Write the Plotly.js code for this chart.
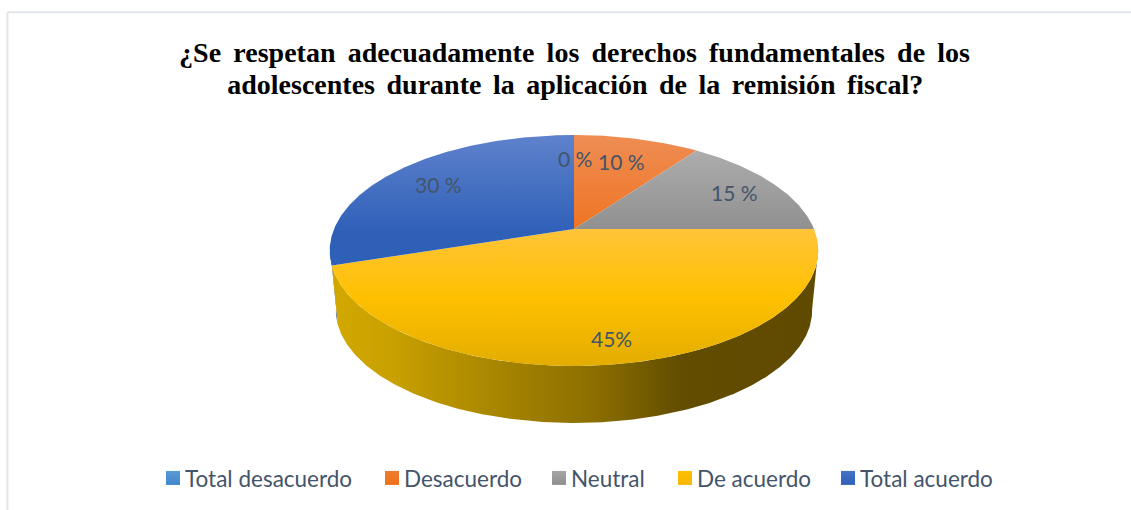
<!DOCTYPE html>
<html><head><meta charset="utf-8">
<script src="https://cdn.plot.ly/plotly-3.0.1.min.js"></script>
<style>html,body{margin:0;padding:0;background:#fff}#chart{width:1131px;height:510px}
#chart text.gtitle{word-spacing:5.25px}
#chart .annotation[data-index="5"] text{word-spacing:4.5px}</style>
</head><body><div id="chart"></div>
<script>
const categories = ["Total desacuerdo","Desacuerdo","Neutral","De acuerdo","Total acuerdo"];
const values = [0,10,15,45,30];
const labelTexts = ["0 %","10 %","15 %","45%","30 %"];
const swatchColors = ["#5b9bd5","#ed7d31","#a5a5a5","#ffc000","#4472c4"];
const swatchEdge = ["#3f86cc","#ee7018","#8f8f8f","#f5b800","#2f60b8"];
const faceTop = ["#6ea6d9","#ef8d53","#b2b2b2","#ffc437","#5f82cc"];
const faceMid = ["#4a8fd0","#ee7422","#8f8f8f","#ffc000","#2f60b8"];
const faceBot = ["#4a8fd0","#ee7422","#8f8f8f","#e3ad00","#2f60b8"];
const labelX = [575,621,734,611,438];
const labelY = [158,161,192,338,184];
const titleLine1 = "¿Se respetan adecuadamente los derechos fundamentales de los";
const titleLine2 = "adolescentes durante la aplicación de la remisión fiscal?";
const legendLeft = [153,372,539,665,828];

const W=1131,H=510;
const cx=574, cy=229, k=0.186;
function proj(th,a,b,c){const u=Math.sin(th),v=Math.cos(th),d=1+k*v;return [cx+a*u/d,c-b*v/d];}
const TOP=[240,111.5,229], BOT=[234,108.7,289.4];
function arc(from,to,p){const xs=[],ys=[];const n=Math.max(2,Math.ceil(Math.abs(to-from)*120));
  for(let i=0;i<=n;i++){const t=from+(to-from)*i/n;const q=proj(t,p[0],p[1],p[2]);xs.push(q[0]);ys.push(q[1]);}return [xs,ys];}

const total=values.reduce((a,b)=>a+b,0);
let acc=0;const angles=values.map(v=>{const s=acc/total*2*Math.PI;acc+=v;return [s,acc/total*2*Math.PI];});

function wall(from,to,fillOpts){const a=arc(from,to,TOP),b=arc(to,from,BOT);
  return Object.assign({type:'scatter',mode:'lines',x:a[0].concat(b[0],[a[0][0]]),y:a[1].concat(b[1],[a[1][0]]),
    fill:'toself',line:{width:0},showlegend:false,hoverinfo:'skip'},fillOpts);}

const traces=[];
const ySplit=angles[3];
traces.push(wall(ySplit[1],ySplit[1]+0.18,{fillcolor:'#44608f'}));
traces.push(wall(100*Math.PI/180,ySplit[1],{fillgradient:{type:'horizontal',start:332,stop:818,colorscale:[
  [0,'#d2a800'],[0.12,'#c9a100'],[0.35,'#a68400'],[0.55,'#8a6d00'],[0.72,'#614c00'],[1,'#5f4a00']]}}));
values.forEach((v,i)=>{ if(!v) return;
  const a=arc(angles[i][0],angles[i][1],TOP);
  traces.push({type:'scatter',mode:'lines',x:[cx].concat(a[0],[cx]),y:[cy].concat(a[1],[cy]),fill:'toself',line:{width:0},
    showlegend:false,name:categories[i],hoverinfo:'name',
    fillgradient:{type:'vertical',start:135,stop:366,colorscale:[[0,faceTop[i]],[0.42,i===3?faceTop[3]:faceMid[i]],[0.7,faceMid[i]],[1,faceBot[i]]]}});
});
categories.forEach((c,i)=>traces.push({type:'scatter',mode:'markers',x:[null],y:[null],name:c,showlegend:true,
  marker:{symbol:'square',size:14,color:swatchColors[i],gradient:{type:'vertical',color:swatchEdge[i]}}}));

const labelFont={family:'Lato,sans-serif',size:21,color:'#44546a'};
const layout={width:W,height:H,margin:{l:0,r:0,t:0,b:0},paper_bgcolor:'#fff',plot_bgcolor:'#fff',
  title:{text:titleLine1,font:{family:'"Liberation Serif",serif',size:28,color:'#000',weight:700},x:0.508,xanchor:'center',y:0.898,yanchor:'middle'},
  xaxis:{range:[0,W],visible:false,fixedrange:true},
  yaxis:{range:[H,0],visible:false,fixedrange:true},
  showlegend:true,
  legend:{orientation:'h',x:0.13,xanchor:'left',y:0.02,yanchor:'bottom',font:{family:'Lato,sans-serif',size:22.5,color:'#44546a'},traceorder:'normal',bgcolor:'rgba(0,0,0,0)',itemwidth:30},
  annotations:labelTexts.map((t,i)=>({x:labelX[i],y:labelY[i],text:t,showarrow:false,xanchor:'center',yanchor:'middle',font:labelFont}))
    .concat([{x:574.5,y:84,text:titleLine2,showarrow:false,xanchor:'center',yanchor:'middle',font:{family:'"Liberation Serif",serif',size:28,color:'#000',weight:700}}]),
  shapes:[
   {type:'line',xref:'paper',yref:'paper',x0:0.0066,x1:1,y0:0.976,y1:0.976,line:{color:'#e2e6ea',width:2}},
   {type:'line',xref:'paper',yref:'paper',x0:0.0066,x1:0.0066,y0:0,y1:0.976,line:{color:'#e2e6ea',width:2}}
  ]};
Plotly.newPlot('chart',traces,layout,{displayModeBar:false,responsive:false}).then(gd=>{
  const lg=gd.querySelector('.legend');
  const base=lg.getBoundingClientRect();
  lg.querySelectorAll('.traces').forEach((t,i)=>{
    const y=(t.getAttribute('transform')||'').match(/,\s*([-\d.]+)\)/);
    t.setAttribute('transform','translate('+(legendLeft[i]-base.left)+','+(y?y[1]:0)+')');
    const tx=t.querySelector('text.legendtext');
    if(tx) tx.setAttribute('x',+tx.getAttribute('x')-8);
  });
  const clip=gd.querySelector('.legend .scrollbox');
  if(clip){clip.removeAttribute('clip-path');}
});
</script></body></html>
